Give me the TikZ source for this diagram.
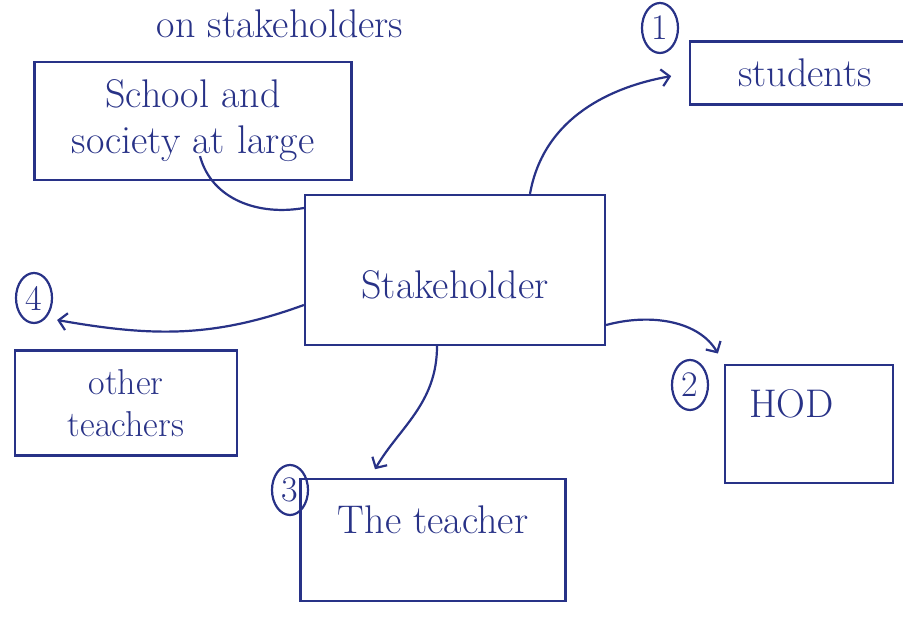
\documentclass[tikz,border=0pt]{standalone}
\usepackage{amsmath}
\usepackage{color}
\usepackage{tikz}
\usetikzlibrary{positioning,arrows,arrows.meta,shapes,calc}
\definecolor{ink}{RGB}{40,50,135}

\begin{document}
\begin{tikzpicture}[->,>={Straight Barb[length=8pt,width=17pt]},x=1pt,y=1pt,line width=2.2pt,
                    draw=ink,text=ink,every node/.style={text=ink,draw=ink}]
  \tikzstyle{holder}=[draw, rectangle, align=center, inner sep=0pt,
                      font=\fontsize{40}{46}\selectfont]
  \tikzstyle{num}=[draw, ellipse, minimum width=36pt, minimum height=50pt,
                   inner sep=0pt, font=\fontsize{36}{36}\selectfont]

  \useasboundingbox (0,0) rectangle (903,618);
  \fill[white] (0,0) rectangle (903,618);

  \node[draw=none, anchor=base, font=\fontsize{40}{46}\selectfont] (title) at (280,580) {on stakeholders};

  \node[holder, minimum width=300pt, minimum height=150pt,
        text height=58pt]                                  (stake)    at (455,348) {Stakeholder};
  \node[holder, minimum width=317pt, minimum height=118pt] (school)   at (193,497) {School and\\society at large};
  \node[holder, minimum width=230pt, minimum height=63pt]  (students) at (805,545) {students};
  \node[holder, minimum width=168pt, minimum height=118pt,
        text width=120pt, align=left, text depth=40pt]     (hod)      at (809,194) {HOD};
  \node[holder, minimum width=265pt, minimum height=122pt,
        text depth=40pt]                                   (teacher)  at (433,78)  {The teacher};
  \node[holder, minimum width=222pt, minimum height=105pt,
        font=\fontsize{36}{42}\selectfont]                 (others)   at (126,215) {other\\teachers};

  \node[num] (c1) at (660,590) {1};
  \node[num] (c2) at (690,233) {2};
  \node[num] (c3) at (290,128) {3};
  \node[num] (c4) at (34,320)  {4};

  \path ([xshift=75pt]stake.north)  edge [out=80, in=190, shorten >=18pt]  (students.west)
        ([yshift=-55pt]stake.east)  edge [out=15, in=120, shorten >=12pt]  (hod.north west)
        ([xshift=-18pt]stake.south) edge [out=-90, in=60, shorten >=10pt]  ([xshift=-63pt]teacher.north)
        ([yshift=-35pt]stake.west)  edge [out=200, in=-10]                ([xshift=4pt,yshift=-22pt]c4.east)
        ([yshift=62pt]stake.west)   edge [-, out=190, in=-75]             ([xshift=7pt,yshift=25pt]school.south);

\end{tikzpicture}
\end{document}
